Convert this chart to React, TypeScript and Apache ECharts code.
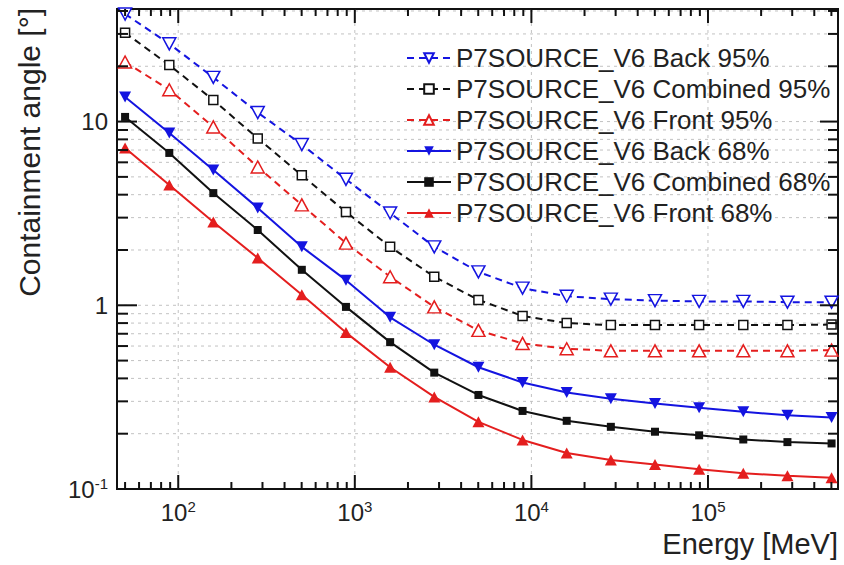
import React, { useEffect, useRef } from "react";
import * as echarts from "echarts";

// Energy grid (MeV)
const energies = [50, 89, 158, 282, 501, 891, 1585, 2818, 5012, 8913, 15849, 28184, 50119, 89125, 158489, 281838, 501187];

// Containment angles (deg)
const back95 = [38.5, 26.5, 17.4, 11.2, 7.5, 4.85, 3.18, 2.08, 1.52, 1.24, 1.12, 1.08, 1.06, 1.05, 1.05, 1.04, 1.04];
const combined95 = [30.4, 20.3, 13.1, 8.1, 5.1, 3.22, 2.08, 1.43, 1.07, 0.875, 0.8, 0.78, 0.78, 0.78, 0.78, 0.78, 0.785];
const front95 = [21.1, 14.9, 9.35, 5.66, 3.52, 2.18, 1.43, 0.98, 0.73, 0.62, 0.58, 0.565, 0.565, 0.565, 0.565, 0.565, 0.57];
const back68 = [13.6, 8.67, 5.45, 3.39, 2.08, 1.37, 0.86, 0.61, 0.46, 0.38, 0.335, 0.31, 0.292, 0.277, 0.263, 0.252, 0.245];
const combined68 = [10.6, 6.75, 4.08, 2.57, 1.56, 0.98, 0.63, 0.43, 0.325, 0.266, 0.235, 0.218, 0.205, 0.196, 0.186, 0.18, 0.177];
const front68 = [7.18, 4.52, 2.84, 1.81, 1.14, 0.71, 0.46, 0.317, 0.232, 0.185, 0.157, 0.144, 0.136, 0.128, 0.122, 0.118, 0.115];

const seriesNames = [
  "P7SOURCE_V6 Back 95%",
  "P7SOURCE_V6 Combined 95%",
  "P7SOURCE_V6 Front 95%",
  "P7SOURCE_V6 Back 68%",
  "P7SOURCE_V6 Combined 68%",
  "P7SOURCE_V6 Front 68%",
];

const xMin = 45;
const xMax = 545000;
const yMin = 0.1;
const yMax = 41;
const xMajor = [100, 1000, 10000, 100000];
const yMajor = [1, 10];

const BLUE = "#1414e0";
const RED = "#e41e1e";
const BLACK = "#111111";
const FONT = "Liberation Sans, Arial, sans-serif";

function minorValues(min: number, max: number): number[] {
  const out: number[] = [];
  for (let e = -2; e < 7; e++) {
    for (let m = 2; m <= 9; m++) {
      const v = parseFloat((m * Math.pow(10, e)).toPrecision(6));
      if (v > min && v < max) out.push(v);
    }
  }
  return out;
}
const xMinor = minorValues(xMin, xMax);
const yMinor = minorValues(yMin, yMax);

function powLabel(v: number): string {
  const e = Math.log10(v);
  const r = Math.round(e);
  if (Math.abs(e - r) > 1e-6) return "";
  if (r === 0) return "{b|1}";
  if (r === 1) return "{b|10}";
  return `{b|10}{s|${r}}`;
}

const labelRich = {
  b: { fontSize: 24, color: "#222", fontFamily: FONT },
  s: { fontSize: 15, color: "#222", fontFamily: FONT, padding: [0, 0, 12, 0] },
};

function pairs(ys: number[]) {
  return energies.map((x, i) => [x, ys[i]]);
}

export default function App() {
  const ref = useRef<HTMLDivElement>(null);
  useEffect(() => {
    if (!ref.current) return;
    const chart = echarts.init(ref.current, null, { renderer: "svg" });

    const gridStyle = { stroke: "#c2c2c2", lineWidth: 1, lineDash: [3, 4] };
    const tickStyle = { stroke: "#111", lineWidth: 2 };

    const mkSeries = (
      name: string,
      ys: number[],
      color: string,
      symbol: string,
      rotate: number,
      size: number | number[],
      open: boolean,
      dashed: boolean
    ) => ({
      name,
      type: "line",
      data: pairs(ys),
      smooth: false,
      symbol,
      symbolRotate: rotate,
      symbolSize: size,
      showAllSymbol: true,
      z: 3,
      lineStyle: { color, width: 2, type: dashed ? [7, 5] : "solid" },
      itemStyle: open
        ? { color: "#ffffff", borderColor: color, borderWidth: 1.5 }
        : { color, borderColor: color, borderWidth: 0 },
    });

    chart.setOption({
      animation: false,
      backgroundColor: "#ffffff",
      grid: {
        left: 117,
        right: 6,
        top: 9,
        bottom: 76,
        show: true,
        borderColor: "#111",
        borderWidth: 2,
        backgroundColor: "transparent",
      },
      xAxis: {
        type: "log",
        logBase: 10,
        min: xMin,
        max: xMax,
        axisLine: { show: false },
        axisTick: { show: false },
        splitLine: { show: false },
        axisLabel: {
          margin: 10,
          formatter: powLabel,
          rich: labelRich,
          showMinLabel: true,
          showMaxLabel: true,
        },
      },
      yAxis: {
        type: "log",
        logBase: 10,
        min: yMin,
        max: yMax,
        axisLine: { show: false },
        axisTick: { show: false },
        splitLine: { show: false },
        axisLabel: {
          margin: 9,
          formatter: powLabel,
          rich: labelRich,
          showMinLabel: true,
          showMaxLabel: true,
        },
      },
      legend: {
        data: seriesNames,
        orient: "vertical",
        left: 401,
        top: 40,
        itemWidth: 44,
        itemHeight: 12,
        itemGap: 5,
        selectedMode: false,
        textStyle: { fontSize: 26, color: "#222", fontFamily: FONT },
      },
      graphic: [
        {
          type: "text",
          right: 6,
          top: 529,
          style: { text: "Energy [MeV]", fontSize: 29, fill: "#222", fontFamily: FONT },
        },
        {
          type: "text",
          x: 29,
          y: 8,
          rotation: Math.PI / 2,
          style: {
            text: "Containment angle [°]",
            fontSize: 30,
            fill: "#222",
            fontFamily: FONT,
            align: "right",
            verticalAlign: "middle",
          },
        },
      ],
      series: [
        {
          name: "grid-lines",
          type: "custom",
          z: 1,
          silent: true,
          data: [[1000, 1]],
          renderItem: (params: any, api: any) => {
            const cs = params.coordSys;
            const left = cs.x;
            const right = cs.x + cs.width;
            const top = cs.y;
            const bottom = cs.y + cs.height;
            const children: any[] = [];
            [...yMinor, ...yMajor].forEach((v) => {
              const y = api.coord([xMin, v])[1];
              children.push({ type: "line", shape: { x1: left, y1: y, x2: right, y2: y }, style: gridStyle });
            });
            xMajor.forEach((v) => {
              const x = api.coord([v, yMin])[0];
              children.push({ type: "line", shape: { x1: x, y1: top, x2: x, y2: bottom }, style: gridStyle });
            });
            return { type: "group", children };
          },
        },
        {
          name: "ticks",
          type: "custom",
          z: 4,
          silent: true,
          data: [[1000, 1]],
          renderItem: (params: any, api: any) => {
            const cs = params.coordSys;
            const left = cs.x;
            const right = cs.x + cs.width;
            const top = cs.y;
            const bottom = cs.y + cs.height;
            const children: any[] = [];
            const addX = (v: number, len: number) => {
              const x = api.coord([v, yMin])[0];
              children.push({ type: "line", shape: { x1: x, y1: bottom, x2: x, y2: bottom - len }, style: tickStyle });
              children.push({ type: "line", shape: { x1: x, y1: top, x2: x, y2: top + len }, style: tickStyle });
            };
            const addY = (v: number, len: number, lenR: number) => {
              const y = api.coord([xMin, v])[1];
              children.push({ type: "line", shape: { x1: left, y1: y, x2: left + len, y2: y }, style: tickStyle });
              children.push({ type: "line", shape: { x1: right, y1: y, x2: right - lenR, y2: y }, style: tickStyle });
            };
            xMinor.forEach((v) => addX(v, 7));
            xMajor.forEach((v) => addX(v, 14));
            yMinor.forEach((v) => addY(v, 11, 10));
            yMajor.forEach((v) => addY(v, 20, 18));
            return { type: "group", children };
          },
        },
        mkSeries(seriesNames[0], back95, BLUE, "triangle", 180, [13, 12], true, true),
        mkSeries(seriesNames[1], combined95, BLACK, "rect", 0, 9, true, true),
        mkSeries(seriesNames[2], front95, RED, "triangle", 0, [13, 12], true, true),
        mkSeries(seriesNames[3], back68, BLUE, "triangle", 180, [12, 11], false, false),
        mkSeries(seriesNames[4], combined68, BLACK, "rect", 0, 8, false, false),
        mkSeries(seriesNames[5], front68, RED, "triangle", 0, [12, 11], false, false),
      ],
    });
    return () => chart.dispose();
  }, []);

  return (
    <div
      ref={ref}
      style={{ position: "fixed", left: 0, top: 0, width: 844, height: 565, background: "#fff" }}
    />
  );
}
